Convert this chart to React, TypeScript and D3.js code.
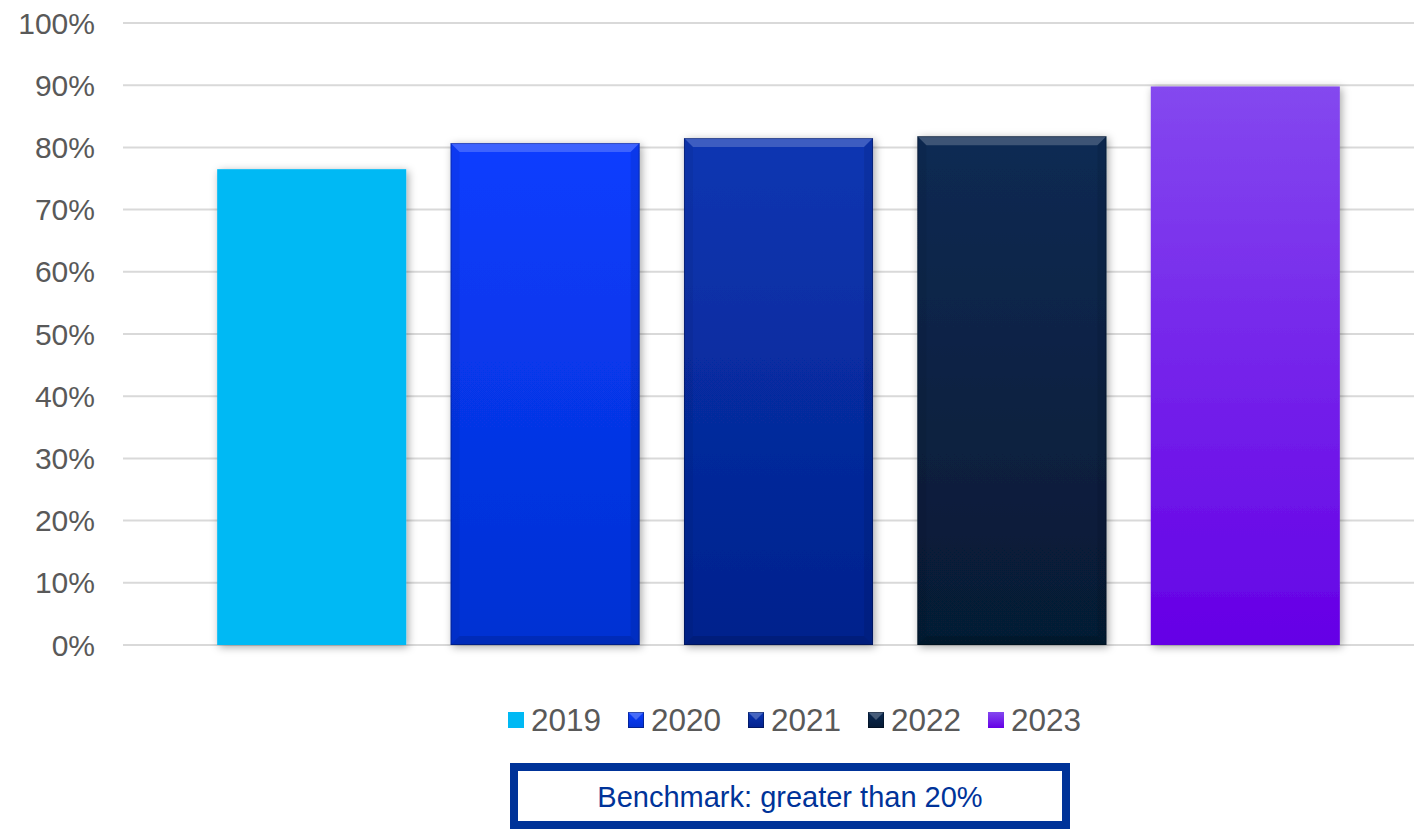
import React from "react";
import * as d3 from "d3";

const categories = ["2019", "2020", "2021", "2022", "2023"];
const values = [76.5, 80.7, 81.5, 81.8, 89.8];
const yTicks = [0, 10, 20, 30, 40, 50, 60, 70, 80, 90, 100];
const benchmarkText = "Benchmark: greater than 20%";

const W = 1414;
const H = 829;
const FONT = "'Liberation Sans', Arial, sans-serif";

const barStyles = [
  { top: "#00B9F4", bottom: "#00B9F4", bevel: false },
  { top: "#0A3DFF", bottom: "#0330D2", bevel: true },
  { top: "#0A36B2", bottom: "#03218C", bevel: true },
  { top: "#0B2A53", bottom: "#061A33", bevel: true },
  { top: "#8448EF", bottom: "#6500E6", bevel: false },
];

export default function App() {
  const y = d3.scaleLinear().domain([0, 100]).range([645, 23]);
  const x = d3
    .scaleBand<string>()
    .domain(categories)
    .range([195, 1362])
    .paddingInner(0.19)
    .paddingOuter(0.095);
  const bw = x.bandwidth();
  const bev = 9;

  const legendStart = 508;
  const legendStep = 120;

  return (
    <svg
      width={W}
      height={H}
      style={{ position: "absolute", left: 0, top: 0, background: "#fff" }}
      fontFamily={FONT}
    >
      <defs>
        <filter id="shadow" x="-10%" y="-10%" width="120%" height="120%">
          <feDropShadow dx="2" dy="2" stdDeviation="4" floodColor="#000" floodOpacity="0.35" />
        </filter>
        {barStyles.map((s, i) => (
          <linearGradient key={i} id={`g${i}`} x1="0" y1="0" x2="0" y2="1">
            <stop offset="0%" stopColor={s.top} />
            <stop offset="100%" stopColor={s.bottom} />
          </linearGradient>
        ))}
      </defs>

      {yTicks.map((t) => (
        <g key={t}>
          <line x1={123} x2={1414} y1={y(t)} y2={y(t)} stroke="#D9D9D9" strokeWidth={2} />
          <text
            x={95}
            y={y(t)}
            textAnchor="end"
            dominantBaseline="central"
            fontSize={30}
            fill="#595959"
          >
            {t}%
          </text>
        </g>
      ))}

      {categories.map((c, i) => {
        const x0 = x(c) as number;
        const y0 = y(values[i]);
        const y1 = y(0);
        const s = barStyles[i];
        return (
          <g key={c}>
            <rect
              x={x0}
              y={y0}
              width={bw}
              height={y1 - y0}
              fill={`url(#g${i})`}
              filter="url(#shadow)"
            />
            {s.bevel && (
              <g>
                <polygon
                  points={`${x0},${y0} ${x0 + bw},${y0} ${x0 + bw - bev},${y0 + bev} ${x0 + bev},${y0 + bev}`}
                  fill="#ffffff"
                  opacity={0.2}
                />
                <polygon
                  points={`${x0},${y0} ${x0 + bev},${y0 + bev} ${x0 + bev},${y1 - bev} ${x0},${y1}`}
                  fill="#000000"
                  opacity={0.05}
                />
                <polygon
                  points={`${x0 + bw},${y0} ${x0 + bw - bev},${y0 + bev} ${x0 + bw - bev},${y1 - bev} ${x0 + bw},${y1}`}
                  fill="#000000"
                  opacity={0.08}
                />
                <polygon
                  points={`${x0},${y1} ${x0 + bev},${y1 - bev} ${x0 + bw - bev},${y1 - bev} ${x0 + bw},${y1}`}
                  fill="#000000"
                  opacity={0.12}
                />
                <rect
                  x={x0 + 0.5}
                  y={y0 + 0.5}
                  width={bw - 1}
                  height={y1 - y0 - 1}
                  fill="none"
                  stroke="#000"
                  strokeOpacity={0.25}
                />
              </g>
            )}
          </g>
        );
      })}

      {categories.map((c, i) => {
        const lx = legendStart + i * legendStep;
        const s = barStyles[i];
        return (
          <g key={`l${c}`}>
            <rect x={lx} y={712} width={16} height={16} fill={`url(#g${i})`} />
            {s.bevel && (
              <g>
                <polygon
                  points={`${lx},${712} ${lx + 16},${712} ${lx + 8},${720}`}
                  fill="#fff"
                  opacity={0.25}
                />
                <rect x={lx + 0.5} y={712.5} width={15} height={15} fill="none" stroke="#000" strokeOpacity={0.3} />
              </g>
            )}
            <text x={lx + 23} y={720} dominantBaseline="central" fontSize={31.5} fill="#595959">
              {c}
            </text>
          </g>
        );
      })}

      <rect x={514} y={767} width={552} height={58} fill="#fff" stroke="#003399" strokeWidth={8} />
      <text
        x={790}
        y={797}
        textAnchor="middle"
        dominantBaseline="central"
        fontSize={29}
        fill="#003399"
      >
        {benchmarkText}
      </text>
    </svg>
  );
}
